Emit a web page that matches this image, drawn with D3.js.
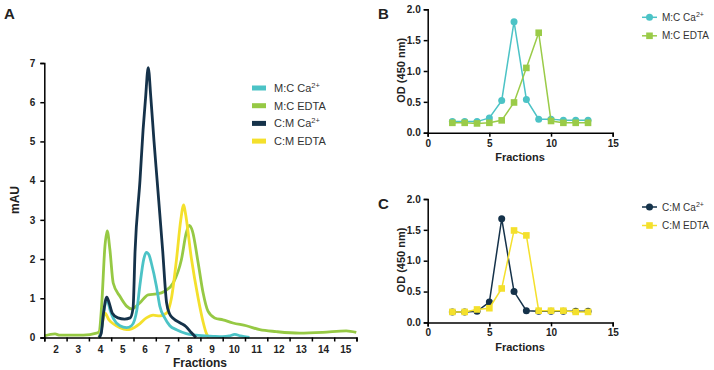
<!DOCTYPE html>
<html>
<head>
<meta charset="utf-8">
<script src="https://cdn.jsdelivr.net/npm/d3@7"></script>
<style>
  body { margin: 0; background: #fff; }
  svg { font-family: Arial, "Liberation Sans", sans-serif; }
  .axis path, .axis line { stroke: #000; stroke-width: 1.5; }
  .axis text { font-weight: bold; fill: #222; }
</style>
</head>
<body>
<div id="chart"></div>
<script>
// ---- Panel A: chromatogram traces, [fraction, mAU] ----
var seriesNamesA = ['M:C Ca', 'M:C EDTA', 'C:M Ca', 'C:M EDTA'];
var mcCaTrace = [[3.95,0],[4.05,0.15],[4.15,0.6],[4.32,0.95],[4.45,0.7],[4.6,0.48],[4.89,0.3],[5.19,0.25],[5.41,0.3],[5.55,0.45],[5.65,0.7],[5.78,1.3],[5.96,2.0],[6.08,2.17],[6.2,2.1],[6.3,1.9],[6.53,1.3],[6.68,0.8],[6.9,0.5],[7.13,0.3],[7.43,0.2],[7.87,0.1],[8.3,0.06],[9.07,0.03],[9.5,0.02],[9.8,0.04],[10.04,0.08],[10.3,0.04],[10.7,0.0]];
var mcEdtaTrace = [[1.5,0.04],[1.98,0.09],[2.2,0.06],[3.25,0.06],[3.84,0.11],[3.96,0.15],[4.07,0.8],[4.22,2.33],[4.32,2.72],[4.44,2.25],[4.59,1.39],[4.89,1.05],[5.19,0.8],[5.41,0.73],[5.78,0.88],[6.16,1.09],[6.53,1.11],[6.9,1.18],[7.28,1.39],[7.65,1.99],[7.87,2.68],[8.0,2.86],[8.14,2.72],[8.4,1.9],[8.62,1.14],[8.84,0.67],[9.14,0.5],[9.51,0.45],[9.96,0.37],[10.56,0.3],[11.16,0.2],[11.9,0.15],[12.95,0.11],[13.99,0.13],[15.04,0.17],[15.49,0.13]];
var cmCaTrace = [[3.95,0],[4.05,0.1],[4.15,0.6],[4.3,1.03],[4.4,0.9],[4.55,0.62],[4.8,0.5],[5.1,0.47],[5.35,0.5],[5.48,0.75],[5.57,2.2],[5.79,4.0],[5.93,5.3],[6.04,6.1],[6.16,6.88],[6.28,6.1],[6.42,5.0],[6.56,4.0],[6.81,2.2],[6.98,0.9],[7.12,0.6],[7.3,0.48],[7.6,0.37],[7.85,0.28],[8.1,0.12],[8.3,0.0]];
var cmEdtaTrace = [[3.95,0],[4.05,0.2],[4.22,0.62],[4.4,0.45],[4.59,0.35],[4.89,0.25],[5.19,0.2],[5.41,0.22],[5.78,0.35],[6.08,0.5],[6.38,0.57],[6.68,0.55],[6.98,0.62],[7.2,1.0],[7.43,2.0],[7.62,3.0],[7.75,3.38],[7.82,3.2],[8.1,2.0],[8.4,1.0],[8.62,0.4],[8.77,0.1],[8.87,0.0]];
var fractionLabelsA = [2,3,4,5,6,7,8,9,10,11,12,13,14,15];
var mauTicks = [0,1,2,3,4,5,6,7];

// ---- Panels B and C: OD450 per fraction ----
var fractionsBC = [2,3,4,5,6,7,8,9,10,11,12,13];
var mcCaOD   = [0.18,0.18,0.18,0.24,0.52,1.80,0.54,0.22,0.22,0.20,0.20,0.20];
var mcEdtaOD = [0.16,0.16,0.15,0.16,0.20,0.49,1.05,1.62,0.19,0.16,0.16,0.16];
var cmCaOD   = [0.17,0.17,0.18,0.33,1.68,0.50,0.19,0.18,0.18,0.18,0.18,0.18];
var cmEdtaOD = [0.17,0.17,0.21,0.23,0.55,1.49,1.41,0.19,0.19,0.19,0.17,0.17];
var odTicks = [0,0.5,1.0,1.5,2.0];
var fracTicksBC = [0,5,10,15];

var colors = {cyan: '#4cc3c6', green: '#96c944', navy: '#15324a', yellow: '#f4e02c'};

var svg = d3.select('#chart').append('svg')
    .attr('width', 714).attr('height', 370);

/**** PANEL A ****/
var xA = d3.scaleLinear().domain([1.5, 15.5]).range([44.3, 356.5]);
var yA = d3.scaleLinear().domain([0, 7]).range([337.5, 63]);

var traces = [
    {name: 'M:C EDTA', data: mcEdtaTrace, color: colors.green},
    {name: 'C:M EDTA', data: cmEdtaTrace, color: colors.yellow},
    {name: 'M:C Ca', data: mcCaTrace, color: colors.cyan},
    {name: 'C:M Ca', data: cmCaTrace, color: colors.navy}
];
var lineA = d3.line()
    .x(function(d) { return xA(d[0]); })
    .y(function(d) { return yA(d[1]); })
    .curve(d3.curveMonotoneX);

svg.selectAll('.traceA').data(traces).enter()
    .append('path')
    .attr('class', 'traceA')
    .attr('d', function(d) { return lineA(d.data); })
    .attr('fill', 'none')
    .attr('stroke', function(d) { return d.color; })
    .attr('stroke-width', 2.8)
    .attr('stroke-linejoin', 'round');

// y axis
svg.append('g').attr('class', 'axis')
    .attr('transform', 'translate(44.3,0)')
    .call(d3.axisLeft(yA).tickValues(mauTicks).tickFormat(d3.format('d')).tickSize(4).tickPadding(5))
    .call(function(g) { g.selectAll('text').style('font-size', '10px'); });

// x axis: tick marks at fraction boundaries, labels centred
var halfTicks = d3.range(1.5, 15.6, 1);
svg.append('g').attr('class', 'axis')
    .attr('transform', 'translate(0,337.5)')
    .call(d3.axisBottom(xA).tickValues(halfTicks).tickSize(4).tickFormat(''));
svg.append('g').attr('class', 'axis')
    .attr('transform', 'translate(0,337.5)')
    .call(d3.axisBottom(xA).tickValues(fractionLabelsA).tickSize(0).tickPadding(8))
    .call(function(g) {
        g.select('.domain').remove();
        g.selectAll('text').style('font-size', '10px');
    });

svg.append('text').attr('x', 200).attr('y', 367)
    .attr('text-anchor', 'middle').style('font-weight', 'bold').style('font-size', '12px')
    .attr('fill', '#222').text('Fractions');
svg.append('text').attr('transform', 'translate(19,200) rotate(-90)')
    .attr('text-anchor', 'middle').style('font-weight', 'bold').style('font-size', '12px')
    .attr('fill', '#222').text('mAU');
svg.append('text').attr('x', 4).attr('y', 19)
    .style('font-weight', 'bold').style('font-size', '15px').attr('fill', '#222').text('A');

// legend A
var legendA = [
    {label: 'M:C Ca', sup: '2+', color: colors.cyan},
    {label: 'M:C EDTA', sup: '', color: colors.green},
    {label: 'C:M Ca', sup: '2+', color: colors.navy},
    {label: 'C:M EDTA', sup: '', color: colors.yellow}
];
var legA = svg.selectAll('.legA').data(legendA).enter().append('g')
    .attr('transform', function(d, i) { return 'translate(252,' + (88 + i * 17.7) + ')'; });
legA.append('rect').attr('x', 0).attr('y', -2.5).attr('width', 14).attr('height', 5)
    .attr('fill', function(d) { return d.color; });
var legAText = legA.append('text').attr('x', 22).attr('y', 4)
    .style('font-size', '11px').attr('fill', '#333');
legAText.append('tspan').text(function(d) { return d.label; });
legAText.append('tspan').attr('dy', -4).style('font-size', '7.5px')
    .text(function(d) { return d.sup; });

/**** PANELS B and C ****/
function drawOdPanel(top, panelLabel, seriesList) {
    var x = d3.scaleLinear().domain([0, 15]).range([427.7, 612.7]);
    var y = d3.scaleLinear().domain([0, 2]).range([top + 123.4, top]);

    seriesList.forEach(function(s) {
        var pts = fractionsBC.map(function(f, i) { return [f, s.values[i]]; });
        svg.append('path')
            .attr('d', d3.line().x(function(d) { return x(d[0]); }).y(function(d) { return y(d[1]); })(pts))
            .attr('fill', 'none').attr('stroke', s.color).attr('stroke-width', 1.5);
        var g = svg.append('g');
        if (s.shape === 'circle') {
            g.selectAll('circle').data(pts).enter().append('circle')
                .attr('cx', function(d) { return x(d[0]); })
                .attr('cy', function(d) { return y(d[1]); })
                .attr('r', 3.5).attr('fill', s.color);
        } else {
            g.selectAll('rect').data(pts).enter().append('rect')
                .attr('x', function(d) { return x(d[0]) - 3.3; })
                .attr('y', function(d) { return y(d[1]) - 3.3; })
                .attr('width', 6.6).attr('height', 6.6).attr('fill', s.color);
        }
    });

    svg.append('g').attr('class', 'axis')
        .attr('transform', 'translate(427.7,0)')
        .call(d3.axisLeft(y).tickValues(odTicks).tickFormat(d3.format('.1f')).tickSize(4).tickPadding(3))
        .call(function(g) { g.selectAll('text').style('font-size', '10px'); });
    svg.append('g').attr('class', 'axis')
        .attr('transform', 'translate(0,' + (top + 123.4) + ')')
        .call(d3.axisBottom(x).tickValues(fracTicksBC).tickSize(4).tickPadding(3))
        .call(function(g) { g.selectAll('text').style('font-size', '10px'); });

    svg.append('text').attr('x', 520).attr('y', top + 152)
        .attr('text-anchor', 'middle').style('font-weight', 'bold').style('font-size', '11px')
        .attr('fill', '#222').text('Fractions');
    svg.append('text').attr('transform', 'translate(405,' + (top + 61) + ') rotate(-90)')
        .attr('text-anchor', 'middle').style('font-weight', 'bold').style('font-size', '11px')
        .attr('fill', '#222').text('OD (450 nm)');
    svg.append('text').attr('x', 378).attr('y', top + 10)
        .style('font-weight', 'bold').style('font-size', '15px').attr('fill', '#222').text(panelLabel);

    // legend
    var leg = svg.selectAll(null).data(seriesList).enter().append('g')
        .attr('transform', function(d, i) { return 'translate(642,' + (top + 8 + i * 18.5) + ')'; });
    leg.append('line').attr('x1', 0).attr('x2', 15).attr('stroke', function(d) { return d.color; })
        .attr('stroke-width', 1.5);
    leg.each(function(d) {
        var g = d3.select(this);
        if (d.shape === 'circle') {
            g.append('circle').attr('cx', 7.5).attr('r', 3.5).attr('fill', d.color);
        } else {
            g.append('rect').attr('x', 4.2).attr('y', -3.3).attr('width', 6.6).attr('height', 6.6).attr('fill', d.color);
        }
    });
    var t = leg.append('text').attr('x', 20).attr('y', 3.5)
        .style('font-size', '10px').attr('fill', '#333');
    t.append('tspan').text(function(d) { return d.label; });
    t.append('tspan').attr('dy', -4).style('font-size', '7px').text(function(d) { return d.sup; });
}

drawOdPanel(9.3, 'B', [
    {label: 'M:C Ca', sup: '2+', values: mcCaOD, color: colors.cyan, shape: 'circle'},
    {label: 'M:C EDTA', sup: '', values: mcEdtaOD, color: '#9acb48', shape: 'square'}
]);
drawOdPanel(199, 'C', [
    {label: 'C:M Ca', sup: '2+', values: cmCaOD, color: colors.navy, shape: 'circle'},
    {label: 'C:M EDTA', sup: '', values: cmEdtaOD, color: colors.yellow, shape: 'square'}
]);
</script>
</body>
</html>
